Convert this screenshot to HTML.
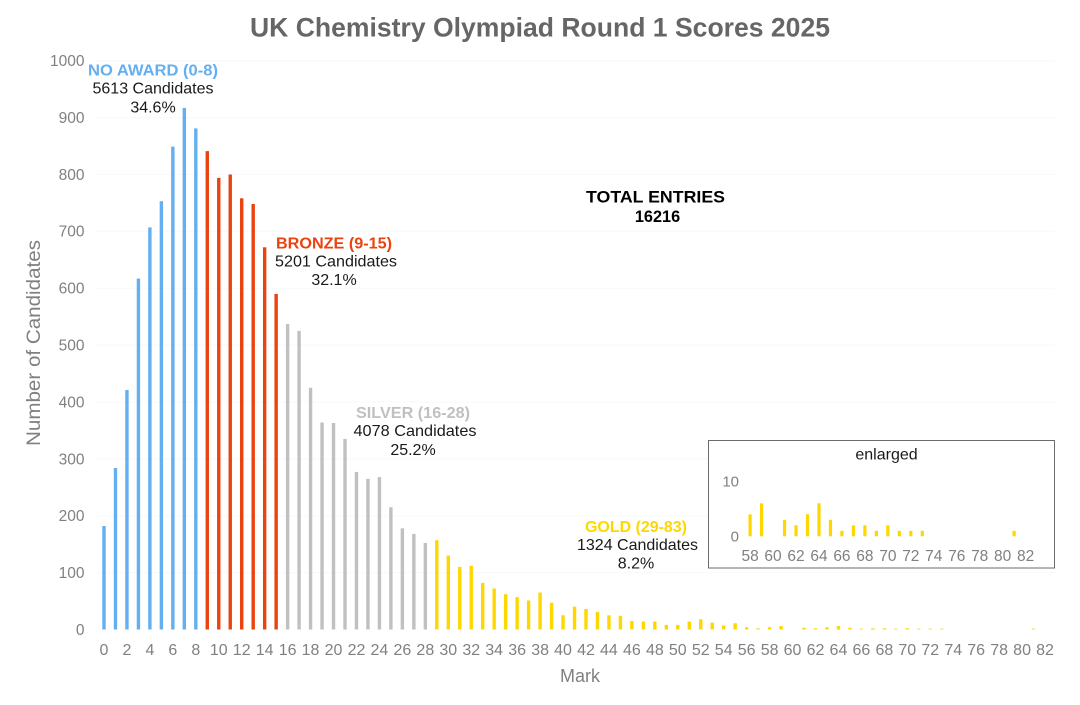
<!DOCTYPE html>
<html><head><meta charset="utf-8"><style>
html,body{margin:0;padding:0;background:#fff;}
svg{display:block;font-family:"Liberation Sans",Arial,sans-serif;}
</style></head><body>
<svg width="1080" height="705" viewBox="0 0 1080 705" xmlns="http://www.w3.org/2000/svg">
<rect width="1080" height="705" fill="#fff"/>
<!-- faint gridlines -->
<g stroke="#f6f8fb" stroke-width="1">
<line x1="95" y1="60.7" x2="1055" y2="60.7"/>
<line x1="95" y1="117.6" x2="1055" y2="117.6"/>
<line x1="95" y1="174.4" x2="1055" y2="174.4"/>
<line x1="95" y1="231.3" x2="1055" y2="231.3"/>
<line x1="95" y1="288.2" x2="1055" y2="288.2"/>
<line x1="95" y1="345.1" x2="1055" y2="345.1"/>
<line x1="95" y1="402" x2="1055" y2="402"/>
<line x1="95" y1="458.9" x2="1055" y2="458.9"/>
<line x1="95" y1="515.7" x2="1055" y2="515.7"/>
<line x1="95" y1="572.6" x2="1055" y2="572.6"/>
</g>
<!-- Title -->
<text x="540" y="36.5" text-anchor="middle" font-size="26.5" font-weight="bold" fill="#666" textLength="580" lengthAdjust="spacingAndGlyphs">UK Chemistry Olympiad Round 1 Scores 2025</text>
<!-- Y ticks -->
<g font-size="15.5" fill="#808080" text-anchor="end">
<text x="84.5" y="66">1000</text>
<text x="84.5" y="123">900</text>
<text x="84.5" y="180">800</text>
<text x="84.5" y="236.5">700</text>
<text x="84.5" y="293.5">600</text>
<text x="84.5" y="350.5">500</text>
<text x="84.5" y="407.5">400</text>
<text x="84.5" y="464.5">300</text>
<text x="84.5" y="521">200</text>
<text x="84.5" y="578">100</text>
<text x="84.5" y="635">0</text>
</g>
<text transform="translate(40,343) rotate(-90)" text-anchor="middle" font-size="19.5" fill="#808080" textLength="206" lengthAdjust="spacingAndGlyphs">Number of Candidates</text>
<text x="580" y="682" text-anchor="middle" font-size="18" fill="#808080">Mark</text>
<!-- X ticks -->
<g font-size="16" fill="#808080" text-anchor="middle">
<text x="104" y="655">0</text><text x="126.95" y="655">2</text><text x="149.9" y="655">4</text><text x="172.86" y="655">6</text><text x="195.81" y="655">8</text>
<text x="218.76" y="655">10</text><text x="241.71" y="655">12</text><text x="264.66" y="655">14</text><text x="287.62" y="655">16</text><text x="310.57" y="655">18</text>
<text x="333.52" y="655">20</text><text x="356.47" y="655">22</text><text x="379.42" y="655">24</text><text x="402.38" y="655">26</text><text x="425.33" y="655">28</text>
<text x="448.28" y="655">30</text><text x="471.23" y="655">32</text><text x="494.18" y="655">34</text><text x="517.14" y="655">36</text><text x="540.09" y="655">38</text>
<text x="563.04" y="655">40</text><text x="585.99" y="655">42</text><text x="608.94" y="655">44</text><text x="631.9" y="655">46</text><text x="654.85" y="655">48</text>
<text x="677.8" y="655">50</text><text x="700.75" y="655">52</text><text x="723.7" y="655">54</text><text x="746.66" y="655">56</text><text x="769.61" y="655">58</text>
<text x="792.56" y="655">60</text><text x="815.51" y="655">62</text><text x="838.46" y="655">64</text><text x="861.42" y="655">66</text><text x="884.37" y="655">68</text>
<text x="907.32" y="655">70</text><text x="930.27" y="655">72</text><text x="953.22" y="655">74</text><text x="976.18" y="655">76</text><text x="999.13" y="655">78</text>
<text x="1022.08" y="655">80</text><text x="1045.03" y="655">82</text>
</g>
<!-- Bars -->
<g transform="translate(0,629.5)">
<g fill="#63aff0">
<rect x="102.3" y="-103.5" width="3.4" height="103.5"/>
<rect x="113.78" y="-161.5" width="3.4" height="161.5"/>
<rect x="125.25" y="-239.5" width="3.4" height="239.5"/>
<rect x="136.73" y="-350.9" width="3.4" height="350.9"/>
<rect x="148.2" y="-402.1" width="3.4" height="402.1"/>
<rect x="159.68" y="-428.3" width="3.4" height="428.3"/>
<rect x="171.16" y="-482.9" width="3.4" height="482.9"/>
<rect x="182.63" y="-521.6" width="3.4" height="521.6"/>
<rect x="194.11" y="-501.1" width="3.4" height="501.1"/>
</g>
<g fill="#ea4310">
<rect x="205.58" y="-478.4" width="3.4" height="478.4"/>
<rect x="217.06" y="-451.6" width="3.4" height="451.6"/>
<rect x="228.54" y="-455" width="3.4" height="455"/>
<rect x="240.01" y="-431.2" width="3.4" height="431.2"/>
<rect x="251.49" y="-425.5" width="3.4" height="425.5"/>
<rect x="262.96" y="-382.2" width="3.4" height="382.2"/>
<rect x="274.44" y="-335.6" width="3.4" height="335.6"/>
</g>
<g fill="#c0c0c0">
<rect x="285.92" y="-305.4" width="3.4" height="305.4"/>
<rect x="297.39" y="-298.6" width="3.4" height="298.6"/>
<rect x="308.87" y="-241.7" width="3.4" height="241.7"/>
<rect x="320.34" y="-207" width="3.4" height="207"/>
<rect x="331.82" y="-206.5" width="3.4" height="206.5"/>
<rect x="343.3" y="-190.5" width="3.4" height="190.5"/>
<rect x="354.77" y="-157.6" width="3.4" height="157.6"/>
<rect x="366.25" y="-150.7" width="3.4" height="150.7"/>
<rect x="377.72" y="-152.4" width="3.4" height="152.4"/>
<rect x="389.2" y="-122.3" width="3.4" height="122.3"/>
<rect x="400.68" y="-101.2" width="3.4" height="101.2"/>
<rect x="412.15" y="-95.6" width="3.4" height="95.6"/>
<rect x="423.63" y="-86.5" width="3.4" height="86.5"/>
</g>
<g fill="#ffd700">
<rect x="435.1" y="-89.3" width="3.4" height="89.3"/>
<rect x="446.58" y="-73.9" width="3.4" height="73.9"/>
<rect x="458.06" y="-62.6" width="3.4" height="62.6"/>
<rect x="469.53" y="-63.7" width="3.4" height="63.7"/>
<rect x="481.01" y="-46.6" width="3.4" height="46.6"/>
<rect x="492.48" y="-41" width="3.4" height="41"/>
<rect x="503.96" y="-35.3" width="3.4" height="35.3"/>
<rect x="515.44" y="-32.4" width="3.4" height="32.4"/>
<rect x="526.91" y="-29" width="3.4" height="29"/>
<rect x="538.39" y="-37" width="3.4" height="37"/>
<rect x="549.86" y="-26.7" width="3.4" height="26.7"/>
<rect x="561.34" y="-14.2" width="3.4" height="14.2"/>
<rect x="572.82" y="-22.8" width="3.4" height="22.8"/>
<rect x="584.29" y="-20.5" width="3.4" height="20.5"/>
<rect x="595.77" y="-17.6" width="3.4" height="17.6"/>
<rect x="607.24" y="-14.2" width="3.4" height="14.2"/>
<rect x="618.72" y="-13.7" width="3.4" height="13.7"/>
<rect x="630.2" y="-8.5" width="3.4" height="8.5"/>
<rect x="641.67" y="-8" width="3.4" height="8"/>
<rect x="653.15" y="-8" width="3.4" height="8"/>
<rect x="664.62" y="-4.6" width="3.4" height="4.6"/>
<rect x="676.1" y="-4.6" width="3.4" height="4.6"/>
<rect x="687.58" y="-8" width="3.4" height="8"/>
<rect x="699.05" y="-10.2" width="3.4" height="10.2"/>
<rect x="710.53" y="-6.8" width="3.4" height="6.8"/>
<rect x="722" y="-4" width="3.4" height="4"/>
<rect x="733.48" y="-6.3" width="3.4" height="6.3"/>
<rect x="744.96" y="-2.3" width="3.4" height="2.3"/>
<rect x="756.43" y="-1.2" width="3.4" height="1.2"/>
<rect x="767.91" y="-2.3" width="3.4" height="2.3"/>
<rect x="779.38" y="-3.4" width="3.4" height="3.4"/>
<rect x="802.34" y="-1.7" width="3.4" height="1.7"/>
<rect x="813.81" y="-1.2" width="3.4" height="1.2"/>
<rect x="825.29" y="-2.3" width="3.4" height="2.3"/>
<rect x="836.76" y="-3.4" width="3.4" height="3.4"/>
<rect x="848.24" y="-1.7" width="3.4" height="1.7"/>
<rect x="859.72" y="-0.8" width="3.4" height="0.8"/>
<rect x="871.19" y="-1.2" width="3.4" height="1.2"/>
<rect x="882.67" y="-1.2" width="3.4" height="1.2"/>
<rect x="894.14" y="-0.8" width="3.4" height="0.8"/>
<rect x="905.62" y="-1.2" width="3.4" height="1.2"/>
<rect x="917.1" y="-0.8" width="3.4" height="0.8"/>
<rect x="928.57" y="-0.8" width="3.4" height="0.8"/>
<rect x="940.05" y="-0.8" width="3.4" height="0.8"/>
<rect x="1031.86" y="-0.8" width="3.4" height="0.8"/>
</g>
</g>
<!-- Annotations -->
<g text-anchor="middle">
<text x="153" y="75.5" font-size="15.5" font-weight="bold" fill="#63aff0" textLength="130" lengthAdjust="spacingAndGlyphs">NO AWARD (0-8)</text>
<text x="153" y="93.5" font-size="16" fill="#1a1a1a" textLength="121" lengthAdjust="spacingAndGlyphs">5613 Candidates</text>
<text x="153" y="112.5" font-size="16" fill="#1a1a1a">34.6%</text>

<text x="334" y="248.3" font-size="15.5" font-weight="bold" fill="#ea4310" textLength="116" lengthAdjust="spacingAndGlyphs">BRONZE (9-15)</text>
<text x="336" y="266.7" font-size="16" fill="#1a1a1a" textLength="122" lengthAdjust="spacingAndGlyphs">5201 Candidates</text>
<text x="334" y="285" font-size="16" fill="#1a1a1a">32.1%</text>

<text x="413" y="418" font-size="15.5" font-weight="bold" fill="#c0c0c0" textLength="114" lengthAdjust="spacingAndGlyphs">SILVER (16-28)</text>
<text x="415" y="436" font-size="16" fill="#1a1a1a" textLength="123" lengthAdjust="spacingAndGlyphs">4078 Candidates</text>
<text x="413" y="455" font-size="16" fill="#1a1a1a">25.2%</text>

<text x="636" y="532" font-size="15.5" font-weight="bold" fill="#ffd700" textLength="102" lengthAdjust="spacingAndGlyphs">GOLD (29-83)</text>
<text x="637.5" y="550" font-size="16" fill="#1a1a1a" textLength="121" lengthAdjust="spacingAndGlyphs">1324 Candidates</text>
<text x="636" y="568.5" font-size="16" fill="#1a1a1a">8.2%</text>

<text x="655.5" y="202.7" font-size="16.3" font-weight="bold" fill="#000" textLength="139" lengthAdjust="spacingAndGlyphs">TOTAL ENTRIES</text>
<text x="657.5" y="222" font-size="16.3" font-weight="bold" fill="#000">16216</text>
</g>
<!-- Inset -->
<rect x="708.5" y="440.5" width="346" height="127.5" fill="#fff" stroke="#6b6b6b" stroke-width="1"/>
<text x="886.5" y="459.5" text-anchor="middle" font-size="16" fill="#1a1a1a">enlarged</text>
<g font-size="15" fill="#808080" text-anchor="end">
<text x="739" y="486.5">10</text>
<text x="739" y="541.5">0</text>
</g>
<g fill="#ffd700" transform="translate(0,536.3)">
<rect x="748.5" y="-22" width="3.2" height="22"/>
<rect x="759.98" y="-33" width="3.2" height="33"/>
<rect x="782.94" y="-16.5" width="3.2" height="16.5"/>
<rect x="794.42" y="-11" width="3.2" height="11"/>
<rect x="805.9" y="-22" width="3.2" height="22"/>
<rect x="817.38" y="-33" width="3.2" height="33"/>
<rect x="828.86" y="-16.5" width="3.2" height="16.5"/>
<rect x="840.34" y="-5.5" width="3.2" height="5.5"/>
<rect x="851.82" y="-11" width="3.2" height="11"/>
<rect x="863.3" y="-11" width="3.2" height="11"/>
<rect x="874.78" y="-5.5" width="3.2" height="5.5"/>
<rect x="886.26" y="-11" width="3.2" height="11"/>
<rect x="897.74" y="-5.5" width="3.2" height="5.5"/>
<rect x="909.22" y="-5.5" width="3.2" height="5.5"/>
<rect x="920.7" y="-5.5" width="3.2" height="5.5"/>
<rect x="1012.54" y="-5.5" width="3.2" height="5.5"/>
</g>
<g font-size="15.5" fill="#808080" text-anchor="middle">
<text x="750.1" y="561">58</text><text x="773.06" y="561">60</text><text x="796.02" y="561">62</text><text x="818.98" y="561">64</text>
<text x="841.94" y="561">66</text><text x="864.9" y="561">68</text><text x="887.86" y="561">70</text><text x="910.82" y="561">72</text>
<text x="933.78" y="561">74</text><text x="956.74" y="561">76</text><text x="979.7" y="561">78</text><text x="1002.66" y="561">80</text>
<text x="1025.62" y="561">82</text>
</g>
</svg>
</body></html>
